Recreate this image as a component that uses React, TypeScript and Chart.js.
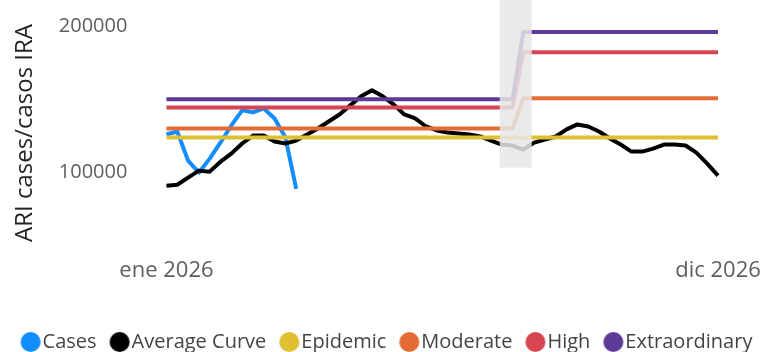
import React, { useEffect, useRef } from "react";
import { Chart, registerables } from "chart.js";

Chart.register(...registerables);

// ---- data ----
const weekIndex: number[] = Array.from({ length: 52 }, (_, i) => i);
const xTickIdx: number[] = [0, 51];
const xTickLabels: string[] = ["ene 2026", "dic 2026"];
const yTickValues: number[] = [100000, 200000];

const casesValues: number[] = [126000, 128100, 108200, 100000, 109600, 120600, 132200, 142500, 141100, 143800, 137000, 124000, 89000];

const averageCurve: number[] = [
  91100, 91800, 96600, 101400, 100700, 107500, 113000, 119900, 125300, 125300,
  121200, 119900, 121900, 126000, 130100, 134900, 139700, 145900, 152100, 156200,
  152100, 146600, 139700, 137000, 131500, 128800, 127400, 126700, 126000, 124700,
  121900, 119200, 118500, 115800, 120500, 122600, 124700, 129500, 132900, 131500,
  128100, 123300, 119200, 114400, 114400, 116400, 119200, 119200, 118500, 113700,
  106200, 98000,
];

const epidemic: number[] = [
  124000, 124000, 124000, 124000, 124000, 124000, 124000, 124000, 124000, 124000,
  124000, 124000, 124000, 124000, 124000, 124000, 124000, 124000, 124000, 124000,
  124000, 124000, 124000, 124000, 124000, 124000, 124000, 124000, 124000, 124000,
  124000, 124000, 124000, 124000, 124000, 124000, 124000, 124000, 124000, 124000,
  124000, 124000, 124000, 124000, 124000, 124000, 124000, 124000, 124000, 124000,
  124000, 124000,
];

const moderate: number[] = [
  130100, 130100, 130100, 130100, 130100, 130100, 130100, 130100, 130100, 130100,
  130100, 130100, 130100, 130100, 130100, 130100, 130100, 130100, 130100, 130100,
  130100, 130100, 130100, 130100, 130100, 130100, 130100, 130100, 130100, 130100,
  130100, 130100, 130100, 150700, 150700, 150700, 150700, 150700, 150700, 150700,
  150700, 150700, 150700, 150700, 150700, 150700, 150700, 150700, 150700, 150700,
  150700, 150700,
];

const high: number[] = [
  144500, 144500, 144500, 144500, 144500, 144500, 144500, 144500, 144500, 144500,
  144500, 144500, 144500, 144500, 144500, 144500, 144500, 144500, 144500, 144500,
  144500, 144500, 144500, 144500, 144500, 144500, 144500, 144500, 144500, 144500,
  144500, 144500, 144500, 182200, 182200, 182200, 182200, 182200, 182200, 182200,
  182200, 182200, 182200, 182200, 182200, 182200, 182200, 182200, 182200, 182200,
  182200, 182200,
];

const extraordinary: number[] = [
  150000, 150000, 150000, 150000, 150000, 150000, 150000, 150000, 150000, 150000,
  150000, 150000, 150000, 150000, 150000, 150000, 150000, 150000, 150000, 150000,
  150000, 150000, 150000, 150000, 150000, 150000, 150000, 150000, 150000, 150000,
  150000, 150000, 150000, 195900, 195900, 195900, 195900, 195900, 195900, 195900,
  195900, 195900, 195900, 195900, 195900, 195900, 195900, 195900, 195900, 195900,
  195900, 195900,
];

// highlighted (dimmed) band, in data units
const bandX: number[] = [30.82, 33.78];
const bandY: number[] = [103400, 217800];

const FONT = "'Open Sans', sans-serif";

const toPoints = (vals: number[]) => vals.map((v, i) => ({ x: weekIndex[i], y: v }));

// legend marker: circle drawn near the right of a wider canvas so it sits close to its text
const makeMarker = (color: string) => {
  const c = document.createElement("canvas");
  c.width = 34;
  c.height = 22;
  const g = c.getContext("2d");
  if (g) {
    g.fillStyle = color;
    g.beginPath();
    g.arc(22, 11, 10, 0, Math.PI * 2);
    g.fill();
  }
  return c;
};

const bandPlugin = {
  id: "band",
  afterDatasetsDraw(chart: any) {
    const { ctx, scales } = chart;
    const x0 = scales.x.getPixelForValue(bandX[0]);
    const x1 = scales.x.getPixelForValue(bandX[1]);
    const y0 = Math.max(0, scales.y.getPixelForValue(bandY[1]));
    const y1 = scales.y.getPixelForValue(bandY[0]);
    ctx.save();
    ctx.fillStyle = "rgba(230,230,230,0.85)";
    ctx.fillRect(x0, y0, x1 - x0, y1 - y0);
    ctx.restore();
  },
};

export default function App() {
  const ref = useRef<HTMLCanvasElement | null>(null);

  useEffect(() => {
    if (!ref.current) return;
    Chart.defaults.font.family = FONT;
    const mk = (label: string, data: number[], color: string, order: number) => ({
      label,
      data: toPoints(data),
      borderColor: color,
      backgroundColor: color,
      borderWidth: 4,
      pointRadius: 0,
      pointHoverRadius: 0,
      pointStyle: makeMarker(color),
      tension: 0,
      borderJoinStyle: "round" as const,
      borderCapStyle: "butt" as const,
      order,
    });
    const chart = new Chart(ref.current, {
      type: "line",
      data: {
        datasets: [
          mk("Cases", casesValues, "#118DFF", 6),
          mk("Average Curve", averageCurve, "#000000", 5),
          mk("Epidemic", epidemic, "#E0C030", 4),
          mk("Moderate", moderate, "#E66C37", 3),
          mk("High", high, "#D64550", 2),
          mk("Extraordinary", extraordinary, "#5C3B96", 1),
        ],
      },
      options: {
        animation: false,
        responsive: true,
        maintainAspectRatio: false,
        layout: { padding: { left: 0, right: 10, top: 0, bottom: -10 } },
        plugins: {
          tooltip: { enabled: false },
          legend: {
            position: "bottom",
            labels: {
              usePointStyle: true,
              boxHeight: 15.5,
              pointStyleWidth: 14,
              padding: 11,
              color: "#444444",
              font: { family: FONT, size: 20 },
              sort: (a: any, b: any) => a.datasetIndex - b.datasetIndex,
            },
          },
        },
        scales: {
          x: {
            type: "linear",
            min: -2.869,
            max: 55.9,
            grid: { display: false, drawTicks: false },
            border: { display: false },
            afterBuildTicks: (s: any) => {
              s.ticks = xTickIdx.map((v) => ({ value: v }));
            },
            afterFit: (s: any) => {
              s.height = 75;
            },
            ticks: {
              autoSkip: false,
              maxRotation: 0,
              padding: 12,
              color: "#605E5C",
              font: { family: FONT, size: 22 },
              callback: (v: any) => {
                const k = xTickIdx.indexOf(Number(v));
                return k >= 0 ? xTickLabels[k] : "";
              },
            },
          },
          y: {
            min: 50000,
            max: 204110,
            grid: { display: false, drawTicks: false },
            border: { display: false },
            afterBuildTicks: (s: any) => {
              s.ticks = yTickValues.map((v) => ({ value: v }));
            },
            ticks: {
              padding: 8,
              color: "#605E5C",
              font: { family: FONT, size: 20 },
              callback: (v: any) => String(v),
            },
            title: {
              display: true,
              text: "ARI cases/casos IRA",
              color: "#252423",
              font: { family: FONT, size: 24 },
              padding: { top: 11, bottom: 11 },
            },
          },
        },
      },
      plugins: [bandPlugin],
    });
    return () => chart.destroy();
  }, []);

  return (
    <div style={{ position: "absolute", left: 0, top: 0, width: 781, height: 352 }}>
      <canvas ref={ref} />
    </div>
  );
}
